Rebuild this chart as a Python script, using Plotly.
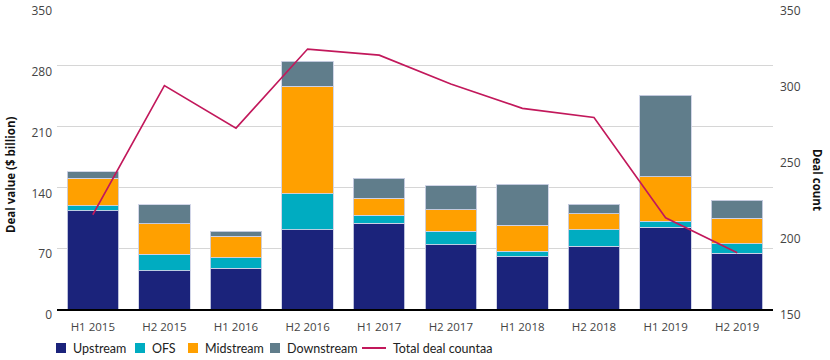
import plotly.graph_objects as go

categories = ["H1 2015", "H2 2015", "H1 2016", "H2 2016", "H1 2017",
              "H2 2017", "H1 2018", "H2 2018", "H1 2019", "H2 2019"]
upstream = [113, 44, 47, 91, 98.6, 74, 60, 72, 94, 64]
ofs = [5.8, 19, 12, 41.5, 9.2, 15.7, 6.5, 19, 7, 11]
midstream = [32, 35, 25, 124, 20, 24.6, 30, 18.7, 51, 29.6]
downstream = [7.3, 22, 5.5, 28.5, 22.6, 27.6, 47, 10.8, 94, 20.4]
deal_count = [212, 297, 269, 321, 317, 298, 282, 276, 210, 187]

series_names = ["Upstream", "OFS", "Midstream", "Downstream"]
series_colors = ["#1b237b", "#00acc1", "#ffa000", "#607d8b"]
line_name = "Total deal countaa"
line_color = "#c2185b"

W, H = 830, 360
ML, MR, MT, MB = 57, 57, 5, 51
PW, PH = W - ML - MR, H - MT - MB


def px_x(x):
    return (x - ML) / PW


def px_y(y):
    return (H - MB - y) / PH


tick_font = dict(family="Open Sans", size=12, color="#444444")
title_font = dict(family="Open Sans", size=11.5, color="#111111")
legend_font = dict(family="Lato", size=12.5, color="#222222")

fig = go.Figure()
for name, vals, col in zip(series_names, [upstream, ofs, midstream, downstream], series_colors):
    fig.add_trace(go.Bar(
        x=categories, y=vals, name=name, showlegend=False,
        marker=dict(color=col, line=dict(color="rgba(205,210,230,0.9)", width=1)),
    ))

fig.add_trace(go.Scatter(
    x=categories, y=deal_count, name=line_name, yaxis="y2", showlegend=False,
    mode="lines", line=dict(color=line_color, width=1.6),
))

# manual legend (layout only)
legend_y = 348
sq_x = [56, 135, 188, 270]
shapes = []
annotations = []
for name, col, x0 in zip(series_names, series_colors, sq_x):
    shapes.append(dict(type="rect", xref="paper", yref="paper",
                       x0=px_x(x0), x1=px_x(x0 + 10),
                       y0=px_y(legend_y + 5), y1=px_y(legend_y - 5),
                       fillcolor=col, line=dict(width=0)))
    annotations.append(dict(text=name, xref="paper", yref="paper",
                            x=px_x(x0 + 15), y=px_y(legend_y), xanchor="left",
                            yanchor="middle", showarrow=False, font=legend_font))
shapes.append(dict(type="line", xref="paper", yref="paper",
                   x0=px_x(362), x1=px_x(386), y0=px_y(legend_y), y1=px_y(legend_y),
                   line=dict(color=line_color, width=2)))
annotations.append(dict(text=line_name, xref="paper", yref="paper",
                        x=px_x(391), y=px_y(legend_y), xanchor="left",
                        yanchor="middle", showarrow=False, font=legend_font))

annotations.append(dict(text="<b>Deal value ($ billion)</b>", xref="paper", yref="paper",
                        x=px_x(10), y=px_y(175), textangle=-90, showarrow=False,
                        xanchor="center", yanchor="middle", font=title_font))
annotations.append(dict(text="<b>Deal count</b>", xref="paper", yref="paper",
                        x=px_x(817), y=px_y(180), textangle=90, showarrow=False,
                        xanchor="center", yanchor="middle", font=title_font))

fig.update_layout(
    barmode="stack",
    bargap=0.28,
    width=W, height=H,
    margin=dict(l=ML, r=MR, t=MT, b=MB, autoexpand=False),
    paper_bgcolor="white", plot_bgcolor="white",
    font=dict(family="Open Sans", size=12, color="#444444"),
    showlegend=False,
    xaxis=dict(showline=True, linecolor="black", linewidth=1.5, ticks="",
               tickfont=dict(family="Open Sans", size=11.5, color="#444444"),
               ticklabelstandoff=6, showgrid=False, automargin=False),
    yaxis=dict(range=[0, 350], dtick=70, showgrid=True, gridcolor="#d6d6d6",
               gridwidth=1, zeroline=False, ticks="", tickfont=tick_font,
               ticklabelshift=6, ticklabeloverflow="allow", ticklabelstandoff=4,
               automargin=False),
    yaxis2=dict(range=[150, 350], dtick=50, overlaying="y", side="right",
                showgrid=False, zeroline=False, ticks="", tickfont=tick_font,
                ticklabelshift=6, ticklabeloverflow="allow", ticklabelstandoff=6,
                automargin=False),
    shapes=shapes,
    annotations=annotations,
)

fig.write_html("out.html", config={"displayModeBar": False},
               post_script="document.body.style.margin='0';document.body.style.overflow='hidden';")
